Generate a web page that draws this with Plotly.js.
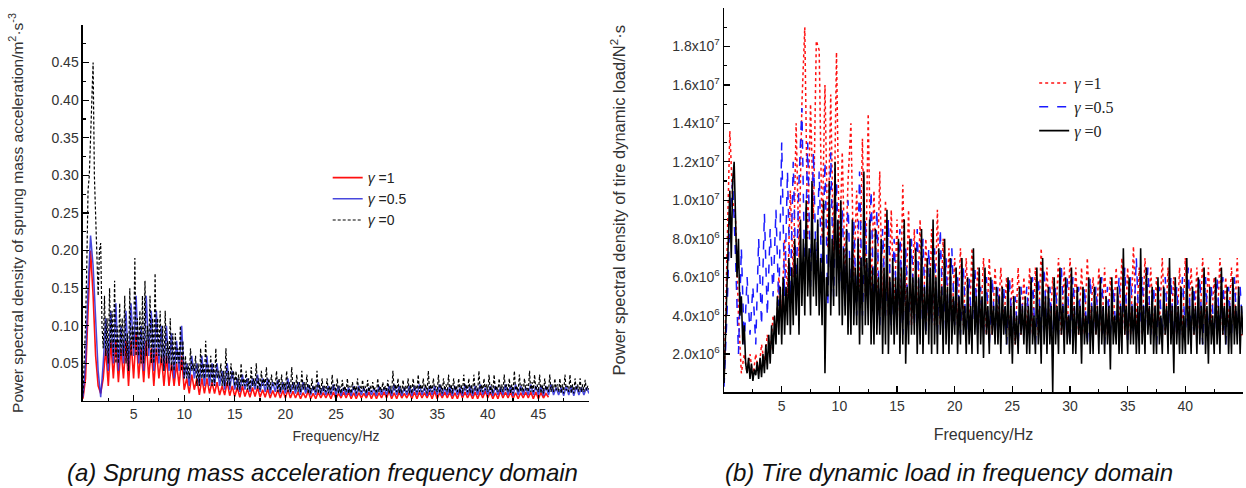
<!DOCTYPE html>
<html>
<head>
<meta charset="utf-8">
<script src="https://cdn.plot.ly/plotly-3.0.1.min.js"></script>
<style>html,body{margin:0;padding:0;background:#fff}#chart{width:1246px;height:488px}</style>
</head>
<body>
<div id="chart"></div>
<script>
// ---------- Panel (a): sprung mass acceleration PSD (m^2·s^-3) ----------
const freqStepA1 = 0.25;   // gamma = 1 bins (Hz)
const freqStepA05 = 0.25;  // gamma = 0.5 bins (Hz)
const freqStepA0 = 0.125;  // gamma = 0 bins (Hz)
const accelGamma1 = [
0.003,0.03,0.12,0.20, 0.14,0.06,0.02,0.01, 0.03,0.07,0.02,0.08, 0.03,0.08,0.025,0.07,
0.03,0.08,0.02,0.08, 0.03,0.09,0.03,0.07, 0.025,0.08,0.03,0.07, 0.02,0.07,0.03,0.06,
0.02,0.06,0.02,0.05, 0.02,0.05,0.02,0.06, 0.015,0.03,0.01,0.035, 0.015,0.03,0.008,0.03,
0.01,0.03,0.01,0.025, 0.01,0.025,0.008,0.02, 0.008,0.025,0.007,0.02, 0.006,0.018,0.005,0.02,
0.006,0.016,0.005,0.018, 0.006,0.018,0.005,0.015, 0.005,0.016,0.004,0.014, 0.005,0.015,0.004,0.014,
0.004,0.015,0.004,0.013, 0.004,0.012,0.003,0.011, 0.004,0.013,0.003,0.010, 0.003,0.012,0.004,0.011,
0.004,0.011,0.003,0.012, 0.003,0.010,0.004,0.012, 0.004,0.012,0.003,0.011, 0.003,0.011,0.004,0.010,
0.004,0.012,0.003,0.011, 0.003,0.011,0.004,0.012, 0.004,0.013,0.003,0.011, 0.003,0.012,0.004,0.010,
0.004,0.011,0.003,0.012, 0.003,0.012,0.004,0.011, 0.004,0.012,0.003,0.013, 0.003,0.011,0.004,0.012,
0.004,0.012,0.003,0.011, 0.003,0.013,0.004,0.012, 0.004,0.011,0.003,0.012, 0.003,0.012,0.004,0.013,
0.004,0.012,0.003,0.011, 0.003,0.013,0.004,0.012, 0.004,0.012,0.003,0.011, 0.003,0.011,0.004,0.012,
0.004,0.012,0.003,0.012, 0.003,0.011,0.004,0.010, 0.005];
const accelGamma05 = [
0.005,0.05,0.15,0.22, 0.18,0.10,0.04,0.005, 0.05,0.11,0.04,0.12, 0.05,0.13,0.04,0.10,
0.05,0.12,0.04,0.13, 0.06,0.14,0.05,0.10, 0.04,0.14,0.06,0.12, 0.04,0.12,0.05,0.10,
0.04,0.10,0.04,0.09, 0.03,0.08,0.04,0.10, 0.03,0.05,0.02,0.06, 0.03,0.05,0.02,0.06,
0.02,0.06,0.02,0.05, 0.02,0.05,0.02,0.04, 0.015,0.05,0.015,0.04, 0.015,0.03,0.012,0.035,
0.015,0.03,0.012,0.03, 0.015,0.035,0.012,0.03, 0.012,0.03,0.01,0.025, 0.012,0.028,0.01,0.025,
0.01,0.03,0.01,0.025, 0.01,0.025,0.008,0.025, 0.01,0.022,0.008,0.02, 0.008,0.025,0.008,0.02,
0.008,0.02,0.008,0.022, 0.008,0.02,0.007,0.018, 0.008,0.018,0.007,0.02, 0.007,0.02,0.008,0.018,
0.007,0.018,0.008,0.017, 0.007,0.02,0.008,0.018, 0.008,0.02,0.007,0.022, 0.008,0.02,0.007,0.018,
0.008,0.02,0.007,0.02, 0.008,0.022,0.008,0.018, 0.007,0.02,0.008,0.02, 0.008,0.022,0.007,0.018,
0.008,0.02,0.007,0.02, 0.008,0.018,0.007,0.022, 0.008,0.02,0.007,0.02, 0.008,0.022,0.008,0.018,
0.008,0.02,0.007,0.02, 0.008,0.018,0.008,0.022, 0.008,0.02,0.007,0.022, 0.008,0.02,0.008,0.018,
0.008,0.022,0.008,0.02, 0.008,0.02,0.007,0.02, 0.008,0.022,0.008,0.018, 0.008,0.018,0.007,0.02,
0.008,0.02,0.007,0.02, 0.008,0.018,0.008,0.018, 0.01];
const accelGamma0 = [
0.01,0.05,0.10,0.18,0.28,0.30,0.35,0.40,
0.45,0.30,0.25,0.18,0.14,0.20,0.21,0.10,
0.07,0.14,0.06,0.11,0.05,0.15,0.07,0.12,
0.06,0.16,0.05,0.10,0.05,0.13,0.06,0.11,
0.06,0.14,0.05,0.09,0.04,0.15,0.06,0.10,
0.07,0.19,0.06,0.11,0.06,0.12,0.05,0.14,
0.05,0.16,0.06,0.10,0.07,0.14,0.05,0.11,
0.05,0.17,0.06,0.11,0.06,0.12,0.05,0.10,
0.04,0.12,0.05,0.08,0.05,0.11,0.04,0.09,
0.04,0.09,0.05,0.07,0.05,0.10,0.04,0.08,
0.03,0.06,0.03,0.05,0.03,0.07,0.04,0.05,
0.04,0.06,0.02,0.05,0.02,0.07,0.03,0.05,
0.03,0.08,0.03,0.05,0.03,0.06,0.02,0.05,
0.02,0.07,0.03,0.04,0.03,0.05,0.02,0.04,
0.02,0.07,0.02,0.04,0.02,0.05,0.03,0.04,
0.02,0.04,0.015,0.035,0.015,0.05,0.02,0.03,
0.02,0.04,0.015,0.03,0.015,0.045,0.02,0.03,
0.02,0.05,0.015,0.03,0.015,0.04,0.02,0.03,
0.02,0.045,0.015,0.03,0.015,0.035,0.02,0.025,
0.02,0.04,0.012,0.03,0.012,0.035,0.015,0.025,
0.015,0.04,0.012,0.025,0.012,0.045,0.015,0.025,
0.015,0.035,0.012,0.025,0.012,0.04,0.015,0.025,
0.015,0.035,0.01,0.022,0.01,0.03,0.014,0.02,
0.012,0.04,0.01,0.022,0.01,0.03,0.013,0.02,
0.012,0.03,0.01,0.02,0.01,0.035,0.014,0.022,
0.012,0.03,0.01,0.02,0.01,0.028,0.013,0.02,
0.012,0.03,0.01,0.02,0.01,0.025,0.014,0.02,
0.01,0.03,0.012,0.02,0.012,0.028,0.013,0.02,
0.01,0.028,0.012,0.02,0.012,0.025,0.014,0.018,
0.01,0.03,0.012,0.02,0.012,0.025,0.014,0.02,
0.012,0.028,0.01,0.02,0.01,0.04,0.014,0.022,
0.012,0.03,0.01,0.02,0.01,0.028,0.013,0.02,
0.012,0.03,0.01,0.022,0.01,0.03,0.014,0.02,
0.012,0.035,0.012,0.022,0.012,0.03,0.014,0.022,
0.01,0.04,0.012,0.022,0.012,0.03,0.014,0.02,
0.012,0.035,0.01,0.022,0.01,0.03,0.014,0.022,
0.012,0.035,0.01,0.022,0.01,0.03,0.014,0.02,
0.012,0.03,0.01,0.022,0.01,0.035,0.014,0.022,
0.012,0.03,0.01,0.022,0.01,0.035,0.014,0.02,
0.012,0.04,0.012,0.022,0.012,0.03,0.014,0.022,
0.012,0.035,0.01,0.022,0.01,0.035,0.014,0.02,
0.012,0.03,0.012,0.022,0.012,0.035,0.014,0.022,
0.012,0.03,0.01,0.022,0.01,0.04,0.014,0.02,
0.012,0.035,0.012,0.022,0.012,0.03,0.014,0.022,
0.012,0.04,0.012,0.025,0.012,0.035,0.014,0.022,
0.012,0.035,0.01,0.022,0.01,0.03,0.014,0.02,
0.012,0.035,0.012,0.022,0.012,0.03,0.014,0.022,
0.012,0.03,0.01,0.022,0.01,0.035,0.014,0.02,
0.012,0.035,0.01,0.022,0.01,0.03,0.014,0.022,
0.012,0.03,0.012,0.022,0.012,0.028,0.014,0.02,
0.015];

// ---------- Panel (b): tire dynamic load PSD, in units of 10^6 N^2·s ----------
const freqStepB1 = 0.25;
const freqStepB05 = 0.25;
const freqStepB0 = 0.125;
const loadGamma1 = [
0.5,8.0,13.6,10.0, 9.0,4.0,1.0,2.0, 1.0,2.0,0.8,2.0, 1.0,2.5,1.5,3.0,
2.0,4.0,3.0,6.0, 4.0,8.0,5.0,10.5, 6.0,14.0,7.0,15.0, 19.0,8.0,15.0,9.0,
18.3,17.8,8.0,16.0, 7.5,15.5,7.0,17.7, 7.0,12.5,6.0,11.0, 14.0,6.0,10.5,5.5,
13.2,5.0,14.5,5.0, 10.5,4.5,11.5,4.0, 10.0,4.0,9.5,4.0, 9.0,3.5,10.8,4.0,
9.5,3.5,8.5,3.5, 9.0,3.5,8.0,3.5, 8.5,3.5,9.5,3.5, 8.0,3.5,7.5,3.5,
7.0,3.5,7.5,3.5, 7.0,3.0,7.5,3.5, 6.5,3.5,7.0,3.0, 7.0,3.0,6.5,3.5,
6.5,3.5,6.0,3.0, 6.0,2.5,6.5,3.0, 6.0,3.0,6.5,3.0, 6.5,3.0,7.5,3.5,
6.5,3.0,6.0,3.5, 7.0,3.0,6.5,3.0, 7.0,3.5,6.5,3.0, 6.5,3.0,7.0,3.5,
6.0,3.0,6.5,3.0, 6.5,3.0,6.0,3.5, 6.5,3.5,7.0,3.0, 6.5,3.0,7.6,3.5,
6.5,3.0,7.0,3.5, 6.5,3.0,6.0,3.5, 7.0,3.0,6.5,3.5, 6.0,3.0,6.5,3.0,
7.0,3.5,6.5,3.0, 6.5,3.0,7.0,3.5, 6.5,3.5,6.0,3.0, 7.0,3.0,6.0,3.5,
6.5,3.5,7.0,3.0, 3.0];
const loadGamma05 = [
0.3,4.0,9.0,11.0, 7.0,2.0,7.5,2.5, 6.0,3.0,5.5,2.5, 8.0,3.5,9.3,4.0,
8.5,5.0,9.5,4.5, 13.0,5.0,11.5,5.0, 12.0,5.5,11.0,14.8, 6.0,13.0,5.5,12.5,
6.0,11.5,5.0,12.0, 4.5,12.5,5.0,11.0, 5.5,9.5,4.5,10.0, 4.5,9.0,4.0,11.5,
4.0,9.0,4.5,10.5, 4.0,9.5,3.5,8.5, 4.0,9.0,3.5,8.0, 4.0,8.5,3.0,7.5,
3.5,8.0,3.5,8.5, 3.0,8.0,3.0,7.5, 3.5,7.5,3.0,8.5, 3.0,7.0,3.0,7.5,
3.5,6.0,3.0,6.5, 3.0,6.0,3.0,6.5, 3.0,5.5,3.0,6.0, 2.5,6.0,3.0,5.5,
3.0,5.5,2.5,6.0, 3.0,5.0,2.5,5.5, 3.0,5.5,3.0,6.0, 2.5,6.0,3.0,6.5,
3.0,5.5,2.5,5.5, 3.0,6.5,3.0,6.0, 2.5,6.0,3.0,5.5, 3.0,5.5,2.5,6.0,
3.0,5.5,3.0,6.0, 2.5,5.5,3.0,5.5, 3.0,6.0,3.0,6.5, 2.5,6.0,3.0,7.0,
3.0,6.0,3.0,6.5, 3.0,5.5,2.5,5.5, 3.0,6.0,3.0,6.0, 2.5,5.5,3.0,6.0,
3.0,6.5,3.0,5.5, 3.0,6.0,2.5,6.0, 3.0,5.5,3.0,6.0, 3.0,6.0,2.5,5.5,
3.0,6.0,3.0,5.5, 3.0];
const loadGamma0 = [
0.5,3.0,6.0,9.0,10.5,7.0,11.0,12.0,
9.0,6.0,8.0,4.0,5.0,2.5,3.5,1.5,
1.0,1.8,0.7,1.5,0.6,1.2,0.9,1.6,
0.7,1.8,0.8,2.0,1.0,2.5,1.2,3.0,
1.5,3.5,2.0,4.0,2.5,5.0,3.0,5.5,
2.5,6.0,3.0,5.5,3.5,7.0,3.0,6.5,
3.5,8.0,4.0,7.0,3.0,9.0,4.5,8.0,
4.0,10.0,5.0,7.5,4.0,11.0,5.0,8.0,
4.5,9.0,4.0,7.0,3.5,10.0,1.0,6.0,
5.0,11.0,4.0,8.0,4.5,12.0,5.0,9.0,
4.0,10.0,3.5,7.5,4.0,8.5,3.0,7.0,
3.0,9.0,3.5,6.5,3.5,8.0,2.5,7.0,
3.0,11.5,3.5,7.0,3.5,9.0,2.5,6.5,
2.5,8.5,3.0,6.0,3.0,8.0,2.0,6.5,
2.5,9.5,2.0,6.0,3.0,7.0,2.5,6.0,
3.0,8.0,2.0,6.5,2.5,9.0,1.5,5.5,
2.5,8.0,3.0,6.0,3.0,7.5,2.0,6.0,
2.5,8.5,2.0,5.5,3.0,7.0,2.5,6.5,
2.0,9.0,2.5,6.0,2.0,7.5,3.0,5.5,
2.0,8.0,2.5,5.5,2.0,7.0,2.5,5.0,
3.0,6.5,2.0,5.0,2.5,7.0,3.0,4.5,
2.0,6.0,2.5,4.5,2.0,7.5,3.0,5.0,
2.0,6.5,2.5,5.0,1.8,6.5,3.0,4.5,
2.0,6.0,3.0,4.5,2.5,5.5,2.5,5.0,
2.0,5.5,3.0,4.5,2.5,6.0,2.0,4.5,
1.5,5.0,2.5,4.0,2.0,5.5,3.0,4.5,
2.5,5.0,2.0,4.5,2.0,6.0,2.5,4.0,
2.0,6.5,2.5,4.5,1.5,7.0,2.5,5.0,
2.0,5.5,2.5,4.5,0.0,6.0,2.5,4.5,
2.0,6.5,3.0,4.5,2.0,6.0,2.5,4.0,
2.5,6.5,2.0,4.5,2.0,5.5,3.0,4.5,
1.5,5.5,2.5,4.0,2.5,6.0,2.0,4.5,
2.0,5.5,3.0,4.5,2.0,6.0,2.5,4.5,
2.0,5.0,2.5,4.5,1.2,6.0,2.5,4.0,
2.5,5.5,2.0,4.5,2.0,7.5,3.0,4.5,
2.0,6.0,2.5,4.5,2.5,5.0,2.0,4.5,
2.0,7.5,2.5,4.5,2.0,6.5,3.0,4.5,
2.5,5.5,2.0,4.5,2.0,6.0,2.5,4.0,
2.0,5.5,3.0,4.5,2.0,7.0,2.5,4.5,
1.0,6.0,2.5,4.5,2.0,5.5,2.0,4.0,
2.0,7.0,2.5,4.5,2.0,5.5,3.0,4.5,
2.0,6.0,2.5,4.5,2.5,6.5,2.0,4.5,
1.5,5.5,2.5,4.0,2.0,6.0,2.5,4.5,
2.0,6.5,3.0,4.5,2.5,5.5,2.0,4.5,
2.0,6.0,2.5,4.5,2.5,5.5,2.0,4.5,
3.0];

// axis tick labels and legend labels
const accelTicks = [0.05,0.10,0.15,0.20,0.25,0.30,0.35,0.40,0.45];
const accelTickText = ['0.05','0.10','0.15','0.20','0.25','0.30','0.35','0.40','0.45'];
const freqTicksA = [5,10,15,20,25,30,35,40,45];
const freqTicksB = [5,10,15,20,25,30,35,40];
const loadTicks = [2,4,6,8,10,12,14,16,18];
const loadTickText = ['2.0x10<sup>6</sup>','4.0x10<sup>6</sup>','6.0x10<sup>6</sup>','8.0x10<sup>6</sup>',
  '1.0x10<sup>7</sup>','1.2x10<sup>7</sup>','1.4x10<sup>7</sup>','1.6x10<sup>7</sup>','1.8x10<sup>7</sup>'];
const legendNames = ['<i>γ</i> =1','<i>γ</i> =0.5','<i>γ</i> =0'];

const bins = (arr, step) => arr.map((_, i) => i * step);

const traces = [
  {x: bins(accelGamma1, freqStepA1), y: accelGamma1, name: legendNames[0], type:'scatter', mode:'lines',
   line:{color:'#ff1010', width:1.6}, xaxis:'x', yaxis:'y', legend:'legend'},
  {x: bins(accelGamma05, freqStepA05), y: accelGamma05, name: legendNames[1], type:'scatter', mode:'lines',
   line:{color:'rgba(40,40,215,0.85)', width:1.5}, xaxis:'x', yaxis:'y', legend:'legend'},
  {x: bins(accelGamma0, freqStepA0), y: accelGamma0, name: legendNames[2], type:'scatter', mode:'lines',
   line:{color:'#000', width:1.2, dash:'3px,2px'}, xaxis:'x', yaxis:'y', legend:'legend'},
  {x: bins(loadGamma1, freqStepB1), y: loadGamma1, name: legendNames[0], type:'scatter', mode:'lines',
   line:{color:'#ff1010', width:1.5, dash:'dot'}, xaxis:'x2', yaxis:'y2', legend:'legend2'},
  {x: bins(loadGamma05, freqStepB05), y: loadGamma05, name: legendNames[1], type:'scatter', mode:'lines',
   line:{color:'#1a1aff', width:1.5, dash:'dash'}, xaxis:'x2', yaxis:'y2', legend:'legend2'},
  {x: bins(loadGamma0, freqStepB0), y: loadGamma0, name: legendNames[2], type:'scatter', mode:'lines',
   line:{color:'#000', width:1.6}, xaxis:'x2', yaxis:'y2', legend:'legend2'}
];

const FONT = 'Arial, Liberation Sans, sans-serif';
const tickFont = {family:FONT, size:14, color:'#333'};
const axisCommon = {showline:true, linecolor:'#000', linewidth:1.5, ticks:'inside', ticklen:6, tickwidth:1.2,
  tickcolor:'#000', showgrid:false, zeroline:false, automargin:false, tickfont:tickFont};

const layout = {
  width:1246, height:488, margin:{l:0,r:0,t:0,b:0}, paper_bgcolor:'#fff', plot_bgcolor:'#fff',
  showlegend:true,
  xaxis: Object.assign({}, axisCommon, {domain:[0.0666,0.4727], range:[0,50], tickmode:'array', tickvals:freqTicksA,
    minor:{tickmode:'linear', tick0:0, dtick:2.5, ticks:'inside', ticklen:3, tickcolor:'#000'},
    title:{text:'Frequency/Hz', font:{family:FONT, size:14, color:'#333'}, standoff:10}, anchor:'y'}),
  yaxis: Object.assign({}, axisCommon, {domain:[0.1783,0.9488], range:[0,0.5], tickmode:'array', tickvals:accelTicks, ticktext:accelTickText,
    minor:{tickmode:'linear', tick0:0, dtick:0.025, ticks:'inside', ticklen:3, tickcolor:'#000'},
    title:{text:'Power spectral density of sprung mass acceleration/m<sup>2</sup>·s<sup>-3</sup>', font:{family:FONT, size:15.5, color:'#333'}, standoff:24}, anchor:'x'}),
  xaxis2: Object.assign({}, axisCommon, {domain:[0.5811,0.9976], range:[0,45], tickmode:'array', tickvals:freqTicksB,
    minor:{tickmode:'linear', tick0:0, dtick:2.5, ticks:'inside', ticklen:3, tickcolor:'#000'},
    title:{text:'Frequency/Hz', font:{family:FONT, size:16, color:'#333'}, standoff:16}, anchor:'y2'}),
  yaxis2: Object.assign({}, axisCommon, {domain:[0.1957,0.9836], range:[0,20], tickmode:'array', tickvals:loadTicks, ticktext:loadTickText,
    minor:{tickmode:'linear', tick0:0, dtick:1, ticks:'inside', ticklen:3, tickcolor:'#000'},
    title:{text:'Power spectral density of tire dynamic load/N<sup>2</sup>·s', font:{family:FONT, size:16.5, color:'#333'}, standoff:42}, anchor:'x2'}),
  legend:{x:0.263, y:0.668, xanchor:'left', yanchor:'top', bgcolor:'rgba(0,0,0,0)', tracegroupgap:0,
    font:{family:FONT, size:14, color:'#222'}},
  legend2:{x:0.830, y:0.8645, xanchor:'left', yanchor:'top', bgcolor:'rgba(0,0,0,0)', tracegroupgap:0,
    font:{family:'Liberation Serif, Times New Roman, serif', size:16, color:'#222'}},
  annotations:[
    {text:'<i>(a) Sprung mass acceleration frequency domain</i>', xref:'paper', yref:'paper', x:322/1246, y:(488-472)/488,
     xanchor:'center', yanchor:'middle', showarrow:false, font:{family:FONT, size:24, color:'#111'}},
    {text:'<i>(b) Tire dynamic load in frequency domain</i>', xref:'paper', yref:'paper', x:949/1246, y:(488-472)/488,
     xanchor:'center', yanchor:'middle', showarrow:false, font:{family:FONT, size:24, color:'#111'}}
  ]
};

Plotly.newPlot('chart', traces, layout, {staticPlot:true, displayModeBar:false});
</script>
</body>
</html>
